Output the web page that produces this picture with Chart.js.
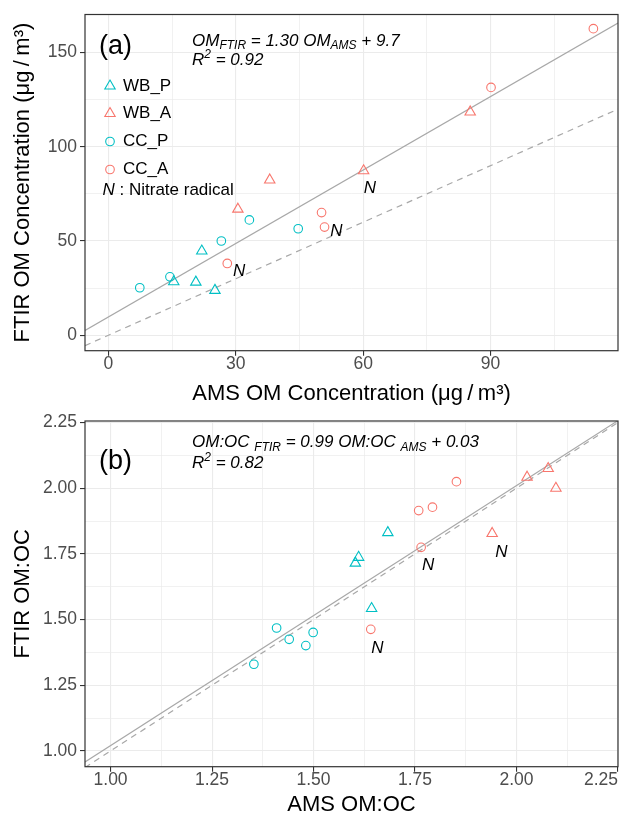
<!DOCTYPE html>
<html lang="en">
<head>
  <meta charset="UTF-8" />
  <title>FTIR vs AMS organic mass</title>
  <script src="https://cdn.jsdelivr.net/npm/chart.js"></script>
  <style>
    body { margin: 0; background: #fff; width: 619px; height: 814px; position: relative; overflow: hidden; }
    canvas { position: absolute; left: 0; }
  </style>
</head>
<body>
  <canvas id="chartA" width="619" height="408" style="top:0"></canvas>
  <canvas id="chartB" width="619" height="406" style="top:408px"></canvas>

  <script>
    // groups
    const groupNames = ['WB_P', 'WB_A', 'CC_P', 'CC_A'];

    // (a) OM concentration, AMS (x) vs FTIR (y), ug/m3
    const aWbPx = [15.4, 20.6, 22.0, 25.1];
    const aWbPy = [28.4, 28.2, 44.7, 23.8];
    const aWbAx = [30.5, 38.0, 60.1, 85.2];
    const aWbAy = [66.9, 82.4, 87.3, 118.5];
    const aCcPx = [7.4, 14.5, 26.6, 33.2, 44.7];
    const aCcPy = [25.2, 31.0, 50.0, 61.2, 56.5];
    const aCcAx = [28.0, 50.2, 50.9, 90.1, 114.2];
    const aCcAy = [38.1, 65.1, 57.4, 131.5, 162.7];
    const aNitrateX = [61.6, 53.7, 30.8];
    const aNitrateY = [78.0, 55.2, 34.2];

    // (b) OM:OC, AMS (x) vs FTIR (y)
    const bWbPx = [1.603, 1.611, 1.683, 1.643];
    const bWbPy = [1.715, 1.737, 1.831, 1.542];
    const bWbAx = [2.026, 2.078, 2.097, 1.940];
    const bWbAy = [2.042, 2.075, 2.000, 1.828];
    const bCcPx = [1.353, 1.409, 1.440, 1.481, 1.499];
    const bCcPy = [1.330, 1.468, 1.425, 1.401, 1.451];
    const bCcAx = [1.641, 1.759, 1.765, 1.793, 1.852];
    const bCcAy = [1.463, 1.915, 1.775, 1.928, 2.025];
    const bNitrateX = [1.782, 1.963, 1.657];
    const bNitrateY = [1.707, 1.756, 1.389];

    // regression fits: (a), (b)
    const fitSlope = [1.30, 0.99];
    const fitIntercept = [9.7, 0.03];
    const fitR2 = [0.92, 0.82];

    // axes
    const aXRange = [-5.5, 120];
    const aYRange = [-8.2, 170.2];
    const aXMajor = [0, 30, 60, 90];
    const aXMinor = [15, 45, 75, 105];
    const aYMajor = [0, 50, 100, 150];
    const aYMinor = [25, 75, 125];
    const bXRange = [0.937, 2.25];
    const bYRange = [0.94, 2.256];
    const bMajor = [1.00, 1.25, 1.50, 1.75, 2.00, 2.25];
    const bMinor = [1.125, 1.375, 1.625, 1.875, 2.125];

    const FONT = '"Liberation Sans", Arial, Helvetica, sans-serif';
    const CYAN = '#00BFC4', RED = '#F8766D';
    const groupColors = [CYAN, RED, CYAN, RED];
    const groupShapes = ['triangle', 'triangle', 'circle', 'circle'];
    const UNIT = '(\u03bcg\u2009/\u2009m\u00b3)';

    Chart.defaults.font.family = FONT;

    function pts(xs, ys) {
      return xs.map((v, i) => ({ x: v, y: ys[i] }));
    }

    function groupSets(xsList, ysList) {
      return groupNames.map((name, g) => ({
        label: name,
        data: pts(xsList[g], ysList[g]),
        pointStyle: groupShapes[g],
        pointRadius: groupShapes[g] === 'triangle' ? 6 : 4.3,
        borderColor: groupColors[g],
        pointBorderColor: groupColors[g],
        backgroundColor: 'rgba(0,0,0,0)',
        pointBackgroundColor: 'rgba(0,0,0,0)',
        pointBorderWidth: 1.1,
        order: 0
      }));
    }

    function fitSets(k, xr) {
      const fit = x => fitSlope[k] * x + fitIntercept[k];
      const common = { showLine: true, borderColor: '#a8a8a8', borderWidth: 1.2, pointRadius: 0, order: 1 };
      return [
        { ...common, label: 'fit', data: [{ x: xr[0], y: fit(xr[0]) }, { x: xr[1], y: fit(xr[1]) }] },
        { ...common, label: '1:1', borderDash: [6, 5], data: [{ x: xr[0], y: xr[0] }, { x: xr[1], y: xr[1] }] }
      ];
    }

    function axis(range, major, minor, fmt, title, titlePad, isX, size) {
      const isMajor = v => major.some(m => Math.abs(m - v) < 1e-9);
      return {
        type: 'linear',
        position: isX ? 'bottom' : 'left',
        min: range[0],
        max: range[1],
        afterBuildTicks: s => {
          s.ticks = major.concat(minor)
            .filter(v => v >= range[0] && v <= range[1])
            .sort((a, b) => a - b)
            .map(v => ({ value: v }));
        },
        afterFit: s => {
          if (isX) { s.height = size; s.paddingLeft = 0; s.paddingRight = 0; }
          else { s.width = size; s.paddingTop = 0; s.paddingBottom = 0; }
        },
        ticks: {
          autoSkip: false,
          maxRotation: 0,
          color: '#4d4d4d',
          font: { size: 17.5, lineHeight: 1 },
          padding: isX ? 0 : 3,
          callback: v => isMajor(v) ? fmt(v) : ''
        },
        grid: {
          color: '#ebebeb',
          lineWidth: c => (c.tick && isMajor(c.tick.value)) ? 1.1 : 0.7,
          tickColor: c => (c.tick && isMajor(c.tick.value)) ? '#333333' : 'rgba(0,0,0,0)',
          tickWidth: 1.1,
          tickLength: 5
        },
        border: { display: false },
        title: {
          display: true,
          text: title,
          color: '#000',
          font: { size: 22, lineHeight: 0.8 },
          padding: isX ? { top: 0, bottom: titlePad } : { top: titlePad, bottom: 0 }
        }
      };
    }

    function drawRich(ctx, x, y, parts, size) {
      let cx = x;
      parts.forEach(([text, kind]) => {
        const fs = kind === 'n' ? size : Math.round(size * 0.7);
        ctx.font = `italic ${fs}px ${FONT}`;
        const dy = kind === 'sub' ? size * 0.3 : kind === 'sup' ? -size * 0.35 : 0;
        ctx.fillText(text, cx, y + dy);
        cx += ctx.measureText(text).width;
      });
    }

    function marker(ctx, style, x, y, color) {
      ctx.save();
      ctx.strokeStyle = color;
      ctx.lineWidth = 1.1;
      ctx.beginPath();
      if (style === 'triangle') {
        const r = 6;
        ctx.moveTo(x, y - r);
        ctx.lineTo(x + r * 0.866, y + r * 0.5);
        ctx.lineTo(x - r * 0.866, y + r * 0.5);
        ctx.closePath();
      } else {
        ctx.arc(x, y, 4.3, 0, Math.PI * 2);
      }
      ctx.stroke();
      ctx.restore();
    }

    const panelDecor = {
      id: 'panelDecor',
      afterDraw(chart, args, o) {
        const { ctx, chartArea: a, scales: { x, y } } = chart;
        ctx.save();
        ctx.fillStyle = '#000';
        ctx.textBaseline = 'middle';

        // nitrate radical labels
        ctx.textAlign = 'center';
        ctx.font = `italic 17px ${FONT}`;
        o.nx.forEach((v, i) => ctx.fillText('N', x.getPixelForValue(v), y.getPixelForValue(o.ny[i])));

        // panel border
        ctx.strokeStyle = '#333333';
        ctx.lineWidth = 1.2;
        ctx.strokeRect(a.left, a.top, a.right - a.left, a.bottom - a.top);

        // tag + equation
        ctx.textAlign = 'left';
        ctx.font = `27px ${FONT}`;
        ctx.fillText(o.tag, 99, a.top + o.tagDy);
        drawRich(ctx, 192, a.top + o.eqDy, o.eq, 17);
        drawRich(ctx, 192, a.top + o.r2Dy, [['R', 'n'], ['2', 'sup'], [' = ' + o.r2.toFixed(2), 'n']], 17);

        if (o.legend) {
          const rows = [86, 113.5, 141.5, 169.5];
          groupNames.forEach((name, g) => {
            marker(ctx, groupShapes[g], 110, rows[g], groupColors[g]);
            ctx.fillStyle = '#000';
            ctx.font = `17px ${FONT}`;
            ctx.fillText(name, 123, rows[g]);
          });
          ctx.font = `italic 17px ${FONT}`;
          ctx.fillText('N', 102.5, 190.7);
          const w = ctx.measureText('N').width;
          ctx.font = `17px ${FONT}`;
          ctx.fillText(' : Nitrate radical', 102.5 + w, 190.7);
        }

        if (o.lastLabel) {
          ctx.fillStyle = '#4d4d4d';
          ctx.textAlign = 'right';
          ctx.font = `17.5px ${FONT}`;
          ctx.fillText(o.lastLabel, 618, a.bottom + 5 + 8.75);
        }
        ctx.restore();
      }
    };

    function baseOptions(pad, scales, decor) {
      return {
        responsive: false,
        animation: false,
        events: [],
        layout: { padding: pad, autoPadding: false },
        scales,
        plugins: {
          legend: { display: false },
          tooltip: { enabled: false },
          panelDecor: decor
        }
      };
    }

    // panel (a)
    new Chart(document.getElementById('chartA'), {
      type: 'scatter',
      data: {
        datasets: groupSets([aWbPx, aWbAx, aCcPx, aCcAx], [aWbPy, aWbAy, aCcPy, aCcAy])
          .concat(fitSets(0, aXRange))
      },
      options: baseOptions(
        { top: 14.5, right: 1, bottom: 0, left: 0 },
        {
          x: axis(aXRange, aXMajor, aXMinor, v => String(v), 'AMS OM Concentration ' + UNIT, 5.4, true, 57.3),
          y: axis(aYRange, aYMajor, aYMinor, v => String(v), 'FTIR OM Concentration ' + UNIT, 14, false, 85)
        },
        {
          tag: '(a)', tagDy: 32.2, eqDy: 26.3, r2Dy: 46,
          eq: [['OM', 'n'], ['FTIR', 'sub'], [' = ' + fitSlope[0].toFixed(2) + ' OM', 'n'], ['AMS', 'sub'], [' + ' + fitIntercept[0].toFixed(1), 'n']],
          r2: fitR2[0], legend: true, nx: aNitrateX, ny: aNitrateY
        }
      ),
      plugins: [panelDecor]
    });

    // panel (b): last x label is drawn right-aligned inside the figure
    const bLabels = bMajor.slice(0, -1);
    new Chart(document.getElementById('chartB'), {
      type: 'scatter',
      data: {
        datasets: groupSets([bWbPx, bWbAx, bCcPx, bCcAx], [bWbPy, bWbAy, bCcPy, bCcAy])
          .concat(fitSets(1, bXRange))
      },
      options: baseOptions(
        { top: 13, right: 1, bottom: 0, left: 0 },
        {
          x: axis(bXRange, bMajor, bMinor, v => bLabels.some(m => Math.abs(m - v) < 1e-9) ? v.toFixed(2) : '', 'AMS OM:OC', 0, true, 47.3),
          y: axis(bYRange, bMajor, bMinor, v => v.toFixed(2), 'FTIR OM:OC', 14, false, 85)
        },
        {
          tag: '(b)', tagDy: 41, eqDy: 21.5, r2Dy: 42.3,
          eq: [['OM:OC ', 'n'], ['FTIR', 'sub'], [' = ' + fitSlope[1].toFixed(2) + ' OM:OC ', 'n'], ['AMS', 'sub'], [' + ' + fitIntercept[1].toFixed(2), 'n']],
          r2: fitR2[1], legend: false, nx: bNitrateX, ny: bNitrateY,
          lastLabel: bMajor[bMajor.length - 1].toFixed(2)
        }
      ),
      plugins: [panelDecor]
    });
  </script>
</body>
</html>
